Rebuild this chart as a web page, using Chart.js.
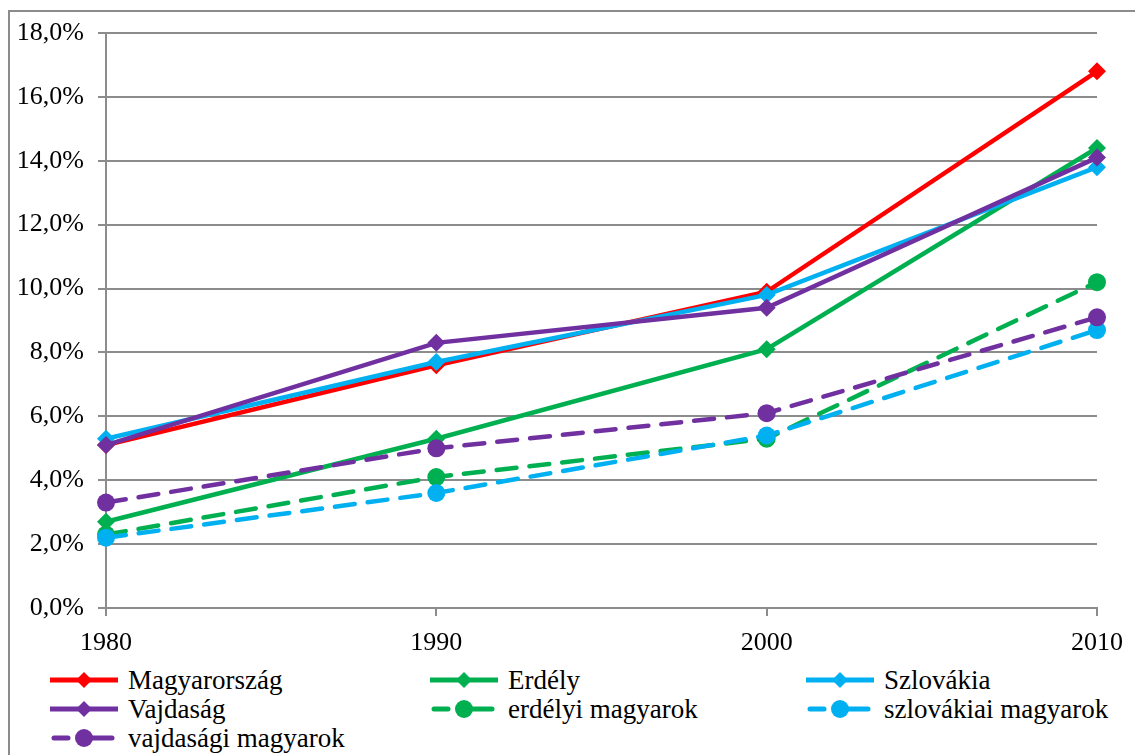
<!DOCTYPE html>
<html>
<head>
<meta charset="utf-8">
<script src="https://cdn.jsdelivr.net/npm/chart.js@4/dist/chart.umd.min.js"></script>
<style>
  body { margin: 0; background: #fff; overflow: hidden; width: 1135px; height: 755px; position: relative; }
  #frame { position: absolute; left: 8px; top: 10px; width: 1140px; height: 760px; border: 2px solid #8c8c8c; box-sizing: border-box; }
  #wrap { position: absolute; left: 0; top: 0; width: 1135px; height: 660px; }
  #legend { position: absolute; left: 0; top: 665px; width: 1135px; font-family: "Liberation Serif", "Times New Roman", serif; font-size: 27px; color: #000; }
  .item { position: absolute; height: 30px; line-height: 30px; white-space: nowrap; }
  .item svg { position: absolute; left: 0; top: 0; }
  .item span { position: absolute; left: 78px; top: 0; }
</style>
</head>
<body>
<div id="frame"></div>
<div id="wrap"><canvas id="chart" width="1135" height="660"></canvas></div>
<div id="legend"></div>
<script>
// years on the x axis
const years = ["1980", "1990", "2000", "2010"];

const magyarorszag = [5.1, 7.6, 9.9, 16.8];
const erdely = [2.7, 5.3, 8.1, 14.4];
const szlovakia = [5.3, 7.7, 9.8, 13.8];
const vajdasag = [5.1, 8.3, 9.4, 14.1];
const erdelyiMagyarok = [2.3, 4.1, 5.3, 10.2];
const szlovakiaiMagyarok = [2.2, 3.6, 5.4, 8.7];
const vajdasagiMagyarok = [3.3, 5.0, 6.1, 9.1];

const seriesNames = ["Magyarország", "Erdély", "Szlovákia", "Vajdaság",
    "erdélyi magyarok", "szlovákiai magyarok", "vajdasági magyarok"];
const seriesData = [magyarorszag, erdely, szlovakia, vajdasag,
    erdelyiMagyarok, szlovakiaiMagyarok, vajdasagiMagyarok];
const seriesColors = ["#ff0000", "#00b050", "#00b0f0", "#7030a0", "#00b050", "#00b0f0", "#7030a0"];
const seriesDashed = [false, false, false, false, true, true, true];

const fontFamily = '"Liberation Serif", "Times New Roman", serif';

let datasets = seriesNames.map(function (name, i) {
    let dashed = seriesDashed[i];
    return {
        label: name,
        data: seriesData[i],
        borderColor: seriesColors[i],
        backgroundColor: seriesColors[i],
        borderWidth: 4.5,
        borderDash: dashed ? [20, 13] : [],
        borderCapStyle: dashed ? 'round' : 'butt',
        pointStyle: dashed ? 'circle' : 'rectRot',
        pointRadius: 9,
        pointBorderWidth: 0,
        tension: 0,
        // later series on top, like the original
        order: seriesNames.length - i
    }
});

new Chart(document.getElementById('chart').getContext('2d'), {
    type: 'line',
    data: {labels: years, datasets: datasets},
    options: {
        responsive: false,
        animation: false,
        layout: {padding: {left: 0, right: 35, top: 33, bottom: 0}},
        plugins: {legend: {display: false}, tooltip: {enabled: false}},
        scales: {
            x: {
                offset: false,
                grid: {drawOnChartArea: false, color: '#8c8c8c', lineWidth: 2, tickLength: 8},
                border: {display: true, color: '#8c8c8c', width: 2},
                ticks: {color: '#000', font: {family: fontFamily, size: 26}, padding: 12, maxRotation: 0},
                afterFit: function (scale) { scale.height = 52 }
            },
            y: {
                min: 0,
                max: 18,
                ticks: {
                    stepSize: 2,
                    color: '#000',
                    padding: 14,
                    font: {family: fontFamily, size: 26},
                    callback: function (v) { return v.toFixed(1).replace('.', ',') + '%' }
                },
                grid: {color: '#8c8c8c', lineWidth: 2, tickLength: 8},
                border: {color: '#8c8c8c', width: 2},
                afterFit: function (scale) { scale.width = 106 }
            }
        }
    }
});

// html legend in three columns
const legendCols = [50, 430, 806];
let legend = document.getElementById('legend');
seriesNames.forEach(function (name, i) {
    let col = i % 3, row = Math.floor(i / 3);
    let c = seriesColors[i];
    let svg;
    if (seriesDashed[i]) {
        svg = '<svg width="70" height="30">' +
            '<line x1="4" y1="15" x2="18" y2="15" stroke="' + c + '" stroke-width="5" stroke-linecap="round"/>' +
            '<line x1="38" y1="15" x2="62" y2="15" stroke="' + c + '" stroke-width="5" stroke-linecap="round"/>' +
            '<circle cx="34" cy="15" r="9" fill="' + c + '"/></svg>';
    } else {
        svg = '<svg width="70" height="30">' +
            '<line x1="0" y1="15" x2="68" y2="15" stroke="' + c + '" stroke-width="5"/>' +
            '<polygon points="34,7 42,15 34,23 26,15" fill="' + c + '"/></svg>';
    }
    let el = document.createElement('div');
    el.className = 'item';
    el.style.left = legendCols[col] + 'px';
    el.style.top = (row * 29) + 'px';
    el.innerHTML = svg + '<span>' + name + '</span>';
    legend.appendChild(el);
});
</script>
</body>
</html>
